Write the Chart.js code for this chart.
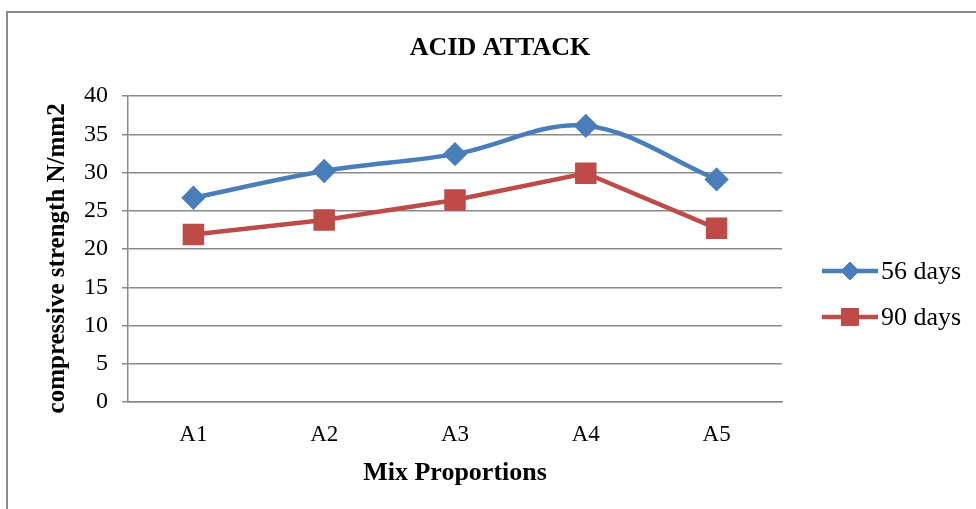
<!DOCTYPE html>
<html>
<head>
<meta charset="utf-8">
<script src="https://cdn.jsdelivr.net/npm/chart.js@4/dist/chart.umd.min.js"></script>
<style>
    html, body { margin: 0; padding: 0; background: #ffffff; }
    #wrap { position: relative; width: 976px; height: 509px; }
</style>
</head>
<body>
<div id="wrap"><canvas id="acidChart" width="976" height="509"></canvas></div>
<script>
const mixes = ['A1', 'A2', 'A3', 'A4', 'A5'];
const days56 = [26.7, 30.2, 32.4, 36.1, 29.1];
const days90 = [21.9, 23.8, 26.4, 29.9, 22.7];
const yTicks = [0, 5, 10, 15, 20, 25, 30, 35, 40];

const serif = '"Liberation Serif", "Times New Roman", serif';
const gridGray = '#8a8a8a';
const blue = '#4a7ebb';
const red = '#be4b48';

// outer frame and the heading, centred on the whole frame
const framePlugin = {
    id: 'frame',
    beforeDraw(chart, args, opts) {
        const ctx = chart.ctx;
        ctx.save();
        ctx.strokeStyle = gridGray;
        ctx.lineWidth = 2;
        ctx.strokeRect(7, 12, 1200, 800);
        ctx.fillStyle = '#000000';
        ctx.font = 'bold 26px ' + serif;
        ctx.textAlign = 'center';
        ctx.textBaseline = 'middle';
        ctx.fillText(opts.text, opts.x, opts.y);
        ctx.restore();
    }
};

// legend drawn as line + marker + label, like the series themselves
const lineLegend = {
    id: 'lineLegend',
    afterDraw(chart, args, opts) {
        const ctx = chart.ctx;
        ctx.save();
        chart.data.datasets.forEach((ds, i) => {
            const y = opts.top + i * opts.gap;
            const mid = opts.left + opts.lineLength / 2;
            ctx.strokeStyle = ds.borderColor;
            ctx.lineWidth = ds.borderWidth;
            ctx.beginPath();
            ctx.moveTo(opts.left, y);
            ctx.lineTo(opts.left + opts.lineLength, y);
            ctx.stroke();
            ctx.fillStyle = ds.pointBackgroundColor;
            ctx.strokeStyle = ds.pointBorderColor;
            ctx.lineWidth = 1;
            Chart.helpers.drawPoint(ctx, {
                pointStyle: ds.pointStyle,
                radius: ds.pointRadius,
                rotation: 0,
                borderWidth: 1
            }, mid, y);
            ctx.fillStyle = '#000000';
            ctx.font = '26px ' + serif;
            ctx.textBaseline = 'middle';
            ctx.textAlign = 'left';
            ctx.fillText(ds.label, opts.left + opts.lineLength + 3, y + 1);
        });
        ctx.restore();
    }
};

new Chart(document.getElementById('acidChart'), {
    type: 'line',
    data: {
        labels: mixes,
        datasets: [
            {
                label: '56 days',
                data: days56,
                borderColor: blue,
                backgroundColor: blue,
                pointBackgroundColor: blue,
                pointBorderColor: blue,
                borderWidth: 4.5,
                pointStyle: 'rectRot',
                pointRadius: 9,
                pointHoverRadius: 9,
                tension: 0.35
            },
            {
                label: '90 days',
                data: days90,
                borderColor: red,
                backgroundColor: red,
                pointBackgroundColor: red,
                pointBorderColor: red,
                borderWidth: 4.5,
                pointStyle: 'rect',
                pointRadius: 12,
                pointHoverRadius: 12,
                tension: 0
            }
        ]
    },
    options: {
        responsive: false,
        animation: false,
        events: [],
        layout: {
            padding: { left: 0, right: 194, top: 96, bottom: 0 }
        },
        plugins: {
            legend: { display: false },
            tooltip: { enabled: false },
            title: { display: false },
            frame: { text: 'ACID ATTACK', x: 500, y: 48 },
            lineLegend: { left: 822, top: 271, gap: 46, lineLength: 56 }
        },
        scales: {
            x: {
                offset: true,
                grid: { display: false, drawTicks: false },
                border: { display: true, color: gridGray, width: 1.5 },
                ticks: {
                    color: '#000000',
                    padding: 19,
                    font: { family: serif, size: 23 }
                },
                title: {
                    display: true,
                    text: 'Mix Proportions',
                    color: '#000000',
                    font: { family: serif, size: 26, weight: 'bold', lineHeight: 1.2 },
                    padding: { top: 0, bottom: 20 }
                },
                afterFit(scale) { scale.height = 107; }
            },
            y: {
                min: 0,
                max: 40,
                afterBuildTicks(scale) {
                    scale.ticks = yTicks.map(v => ({ value: v }));
                },
                grid: {
                    color: gridGray,
                    lineWidth: 1.5,
                    tickLength: 6
                },
                border: { display: true, color: gridGray, width: 1.5 },
                ticks: {
                    color: '#000000',
                    padding: 14,
                    font: { family: serif, size: 24 }
                },
                title: {
                    display: true,
                    // trailing spaces nudge the rotated title a little lower
                    text: 'compressive strength N/mm2   ',
                    color: '#000000',
                    font: { family: serif, size: 25, weight: 'bold', lineHeight: 1.2 },
                    padding: { top: 43, bottom: 0 }
                },
                afterFit(scale) { scale.width = 128; }
            }
        }
    },
    plugins: [framePlugin, lineLegend]
});
</script>
</body>
</html>
